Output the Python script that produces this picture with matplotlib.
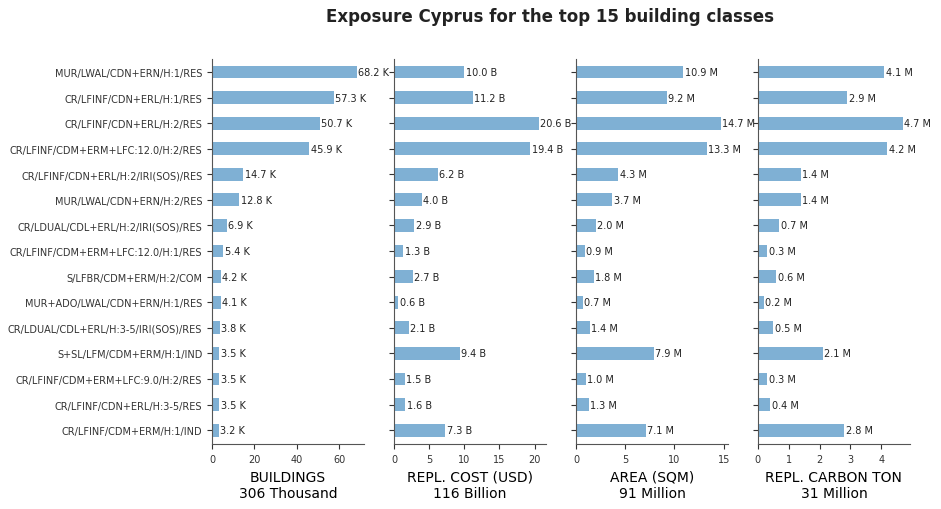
import numpy as np
import matplotlib
matplotlib.use("Agg")
import matplotlib.pyplot as plt

classes = [
    "MUR/LWAL/CDN+ERN/H:1/RES",
    "CR/LFINF/CDN+ERL/H:1/RES",
    "CR/LFINF/CDN+ERL/H:2/RES",
    "CR/LFINF/CDM+ERM+LFC:12.0/H:2/RES",
    "CR/LFINF/CDN+ERL/H:2/IRI(SOS)/RES",
    "MUR/LWAL/CDN+ERN/H:2/RES",
    "CR/LDUAL/CDL+ERL/H:2/IRI(SOS)/RES",
    "CR/LFINF/CDM+ERM+LFC:12.0/H:1/RES",
    "S/LFBR/CDM+ERM/H:2/COM",
    "MUR+ADO/LWAL/CDN+ERN/H:1/RES",
    "CR/LDUAL/CDL+ERL/H:3-5/IRI(SOS)/RES",
    "S+SL/LFM/CDM+ERM/H:1/IND",
    "CR/LFINF/CDM+ERM+LFC:9.0/H:2/RES",
    "CR/LFINF/CDN+ERL/H:3-5/RES",
    "CR/LFINF/CDM+ERM/H:1/IND",
]

buildings = [68.2, 57.3, 50.7, 45.9, 14.7, 12.8, 6.9, 5.4, 4.2, 4.1, 3.8, 3.5, 3.5, 3.5, 3.2]   # thousand
cost = [10.0, 11.2, 20.6, 19.4, 6.2, 4.0, 2.9, 1.3, 2.7, 0.6, 2.1, 9.4, 1.5, 1.6, 7.3]          # billion USD
area = [10.9, 9.2, 14.7, 13.3, 4.3, 3.7, 2.0, 0.9, 1.8, 0.7, 1.4, 7.9, 1.0, 1.3, 7.1]           # million sqm
carbon = [4.1, 2.9, 4.7, 4.2, 1.4, 1.4, 0.7, 0.3, 0.6, 0.2, 0.5, 2.1, 0.3, 0.4, 2.8]           # million ton

panels = [
    (buildings, "K", "BUILDINGS\n306 Thousand"),
    (cost, "B", "REPL. COST (USD)\n116 Billion"),
    (area, "M", "AREA (SQM)\n91 Million"),
    (carbon, "M", "REPL. CARBON TON\n31 Million"),
]

bar_color = "#7fb0d4"
y = np.arange(len(classes))

fig, axes = plt.subplots(1, 4, figsize=(9.41, 5.1), dpi=100, sharey=True)
fig.subplots_adjust(left=0.2253, right=0.967, top=0.882, bottom=0.127, wspace=0.197)

for ax, (vals, unit, xlabel) in zip(axes, panels):
    bars = ax.barh(y, vals, height=0.5, color=bar_color)
    ax.bar_label(bars, labels=[f"{v:.1f} {unit}" for v in vals], fontsize=7, color="#222222", padding=1)
    ax.set_xlabel(xlabel, fontsize=10)
    ax.spines["top"].set_visible(False)
    ax.spines["right"].set_visible(False)
    ax.spines["left"].set_color("#555555")
    ax.spines["bottom"].set_color("#555555")
    ax.tick_params(axis="both", labelsize=7, colors="#333333")
    ax.set_ylim(14.55, -0.5)

axes[0].set_yticks(y)
axes[0].set_yticklabels(classes)
for ax in axes[1:]:
    ax.tick_params(axis="y", labelleft=False)

fig.suptitle("Exposure Cyprus for the top 15 building classes", x=0.585, y=0.985,
             fontsize=12, fontweight="bold", color="#222222")

fig.savefig("out.png", dpi=100)
